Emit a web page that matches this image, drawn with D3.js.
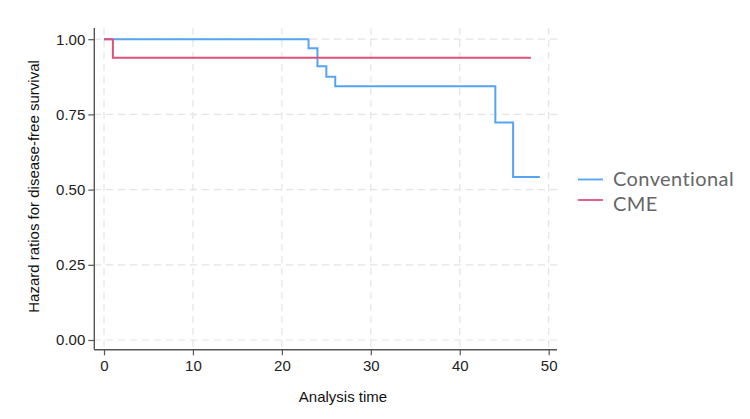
<!DOCTYPE html>
<html><head><meta charset="utf-8">
<script src="https://cdn.jsdelivr.net/npm/d3@7"></script>
<style>body{margin:0;background:#fff;}svg{display:block;}</style>
</head><body>
<svg id="c" width="750" height="419"></svg>
<script>
const xTicks = [0, 10, 20, 30, 40, 50];
const yTicks = [0, 0.25, 0.5, 0.75, 1];
const seriesNames = ["Conventional", "CME"];
const conventionalTimes = [0, 23, 24, 25, 26, 44, 46, 49];
const conventionalSurv  = [1.0, 0.97, 0.91, 0.875, 0.844, 0.723, 0.542, 0.542];
const cmeTimes = [0, 1, 48];
const cmeSurv  = [1.0, 0.938, 0.938];
const colors = ["#55a3f3", "#e0507c"];

const svg = d3.select("#c");
const x = d3.scaleLinear().domain([0, 50]).range([104, 548.7]);
const y = d3.scaleLinear().domain([0, 1]).range([340, 39.2]);
const FONT = "Liberation Sans, Arial, sans-serif";

// gridlines
const grid = svg.append("g").attr("stroke", "#e4e4e4").attr("stroke-width", 1.2).attr("stroke-dasharray", "7,5");
xTicks.forEach(t => grid.append("line").attr("x1", x(t)).attr("x2", x(t)).attr("y1", 28).attr("y2", 349));
yTicks.forEach(t => grid.append("line").attr("x1", 94).attr("x2", 558).attr("y1", y(t)).attr("y2", y(t)));

// axes
const xAxis = d3.axisBottom(x).tickValues(xTicks).tickSize(6).tickPadding(5).tickFormat(d3.format("d"));
const gx = svg.append("g").attr("transform", "translate(0,349.3)").call(xAxis);
gx.select(".domain").attr("d", "M94,0.5H557").attr("stroke", "#555").attr("stroke-width", 1.4);
const yAxis = d3.axisLeft(y).tickValues(yTicks).tickSize(6).tickPadding(3).tickFormat(d3.format(".2f"));
const gy = svg.append("g").attr("transform", "translate(94.3,0)").call(yAxis);
gy.select(".domain").attr("d", "M0,28V349.3").attr("stroke", "#555").attr("stroke-width", 1.4);
[gx, gy].forEach(g => {
  g.selectAll(".tick line").attr("stroke", "#555").attr("stroke-width", 1.2);
  g.selectAll("text").attr("fill", "#222").style("font-family", FONT).style("font-size", "15px");
});

// curves
const line = d3.line().x(d => x(d[0])).y(d => y(d[1])).curve(d3.curveStepAfter);
const conv = conventionalTimes.map((t, i) => [t, conventionalSurv[i]]);
const cme = cmeTimes.map((t, i) => [t, cmeSurv[i]]);
svg.append("path").datum(conv).attr("d", line).attr("fill", "none").attr("stroke", colors[0]).attr("stroke-width", 2);
svg.append("path").datum(cme).attr("d", line).attr("fill", "none").attr("stroke", colors[1]).attr("stroke-width", 2);

// titles
svg.append("text").attr("x", 343).attr("y", 402).attr("text-anchor", "middle")
  .style("font-family", FONT).style("font-size", "15px").attr("fill", "#111").text("Analysis time");
svg.append("text").attr("transform", "translate(38.5,186.5) rotate(-90)").attr("text-anchor", "middle")
  .style("font-family", FONT).style("font-size", "15px").attr("fill", "#111")
  .text("Hazard ratios for disease-free survival");

// legend
const lg = svg.append("g");
seriesNames.forEach((n, i) => {
  const ly = 179.5 + i * 20.5;
  lg.append("line").attr("x1", 578).attr("x2", 603).attr("y1", ly).attr("y2", ly).attr("stroke", colors[i]).attr("stroke-width", 1.8);
  lg.append("text").attr("x", 613).attr("y", 186 + i * 25).style("font-family", "Lato, sans-serif").style("font-size", "20px")
    .style("letter-spacing", "0.4px").attr("fill", "#666").text(n);
});
</script>
</body></html>
